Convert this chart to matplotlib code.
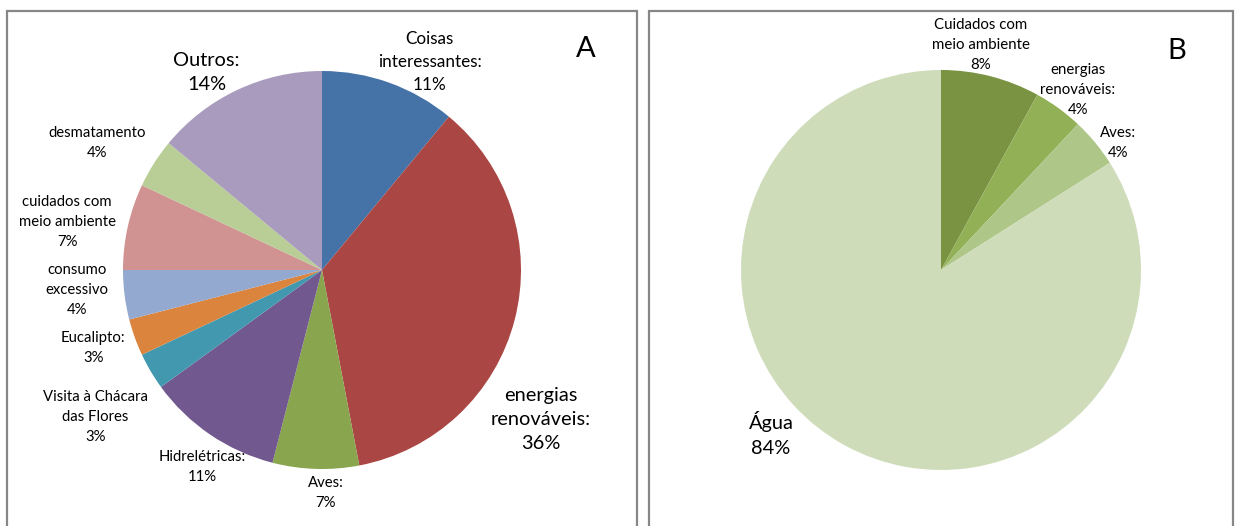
import matplotlib
matplotlib.use("Agg")
import numpy as np
from matplotlib import pyplot as plt
from matplotlib.patches import Rectangle

plt.rcParams['font.family'] = ['Lato', 'DejaVu Sans']

W, H = 1235, 526

# panel A: topics, clockwise from 12 o'clock
names_a = ["Coisas\ninteressantes:", "energias\nrenováveis:", "Aves:",
           "Hidrelétricas:", "Visita à Chácara\ndas Flores", "Eucalipto:",
           "consumo\nexcessivo", "cuidados com\nmeio ambiente",
           "desmatamento", "Outros:"]
pct_a = [11, 36, 7, 11, 3, 3, 4, 7, 4, 14]
colors_a = ["#4572A7", "#AA4643", "#89A54E", "#71588F", "#4198AF",
            "#DB843D", "#93A9CF", "#D19392", "#B9CD96", "#A99BBD"]
# label centres in units of the pie radius
pos_a = [(0.54, 1.045), (1.10, -0.75), (0.02, -1.12), (-0.60, -0.99),
         (-1.14, -0.74), (-1.15, -0.39), (-1.23, -0.10), (-1.28, 0.24),
         (-1.13, 0.64), (-0.58, 0.99)]
size_a = [12.3, 14.4, 10.7, 10.7, 10.7, 10.7, 10.7, 10.7, 10.7, 14.4]

# panel B
names_b = ["Cuidados com\nmeio ambiente", "energias\nrenováveis:", "Aves:", "Água"]
pct_b = [8, 4, 4, 84]
colors_b = ["#7A9343", "#92B056", "#AEC788", "#CFDCBA"]
pos_b = [(0.20, 1.125), (0.685, 0.90), (0.885, 0.635), (-0.85, -0.82)]
size_b = [10.8, 10.8, 10.8, 14.4]


def pie_axes(fig, cx, cy, r, hw=1.5, hh=1.35):
    'axes whose data units equal the pie radius, centred at pixel (cx, cy)'
    left = (cx - hw * r) / W
    bottom = (H - cy - hh * r) / H
    ax = fig.add_axes([left, bottom, 2 * hw * r / W, 2 * hh * r / H])
    return ax, hw, hh


def draw(ax, hw, hh, values, colors, names, pos, sizes, letter, letter_xy):
    ax.pie(values, colors=colors, startangle=90, counterclock=False,
           radius=1, wedgeprops=dict(linewidth=0))
    # pie() resets the limits, put them back so one unit = one radius
    ax.set_xlim(-hw, hw)
    ax.set_ylim(-hh, hh)
    ax.axis('off')
    for name, v, (x, y), s in zip(names, values, pos, sizes):
        ax.text(x, y, f"{name}\n{v}%", ha='center', va='center',
                fontsize=s, linespacing=1.5 if s > 14 else 1.56,
                color='#000000')
    ax.text(letter_xy[0], letter_xy[1], letter, ha='center', va='center',
            fontsize=21)


fig = plt.figure(figsize=(W / 100, H / 100), dpi=100)

# panel frames, open at the bottom edge
for x0, x1 in [(6.5, 636.5), (648.5, 1232.5)]:
    fig.add_artist(Rectangle((x0 / W, -0.1), (x1 - x0) / W, 1.1 - 10.5 / H,
                             transform=fig.transFigure, fill=False,
                             edgecolor='#878787', linewidth=1.6))

ax_a, hw, hh = pie_axes(fig, 322, 270, 199)
draw(ax_a, hw, hh, pct_a, colors_a, names_a, pos_a, size_a, "A",
     ((586 - 322) / 199, (270 - 49) / 199))

ax_b, hw, hh = pie_axes(fig, 941, 270, 200)
draw(ax_b, hw, hh, pct_b, colors_b, names_b, pos_b, size_b, "B",
     ((1177 - 941) / 200, (270 - 51) / 200))

fig.savefig("out.png", dpi=100)
